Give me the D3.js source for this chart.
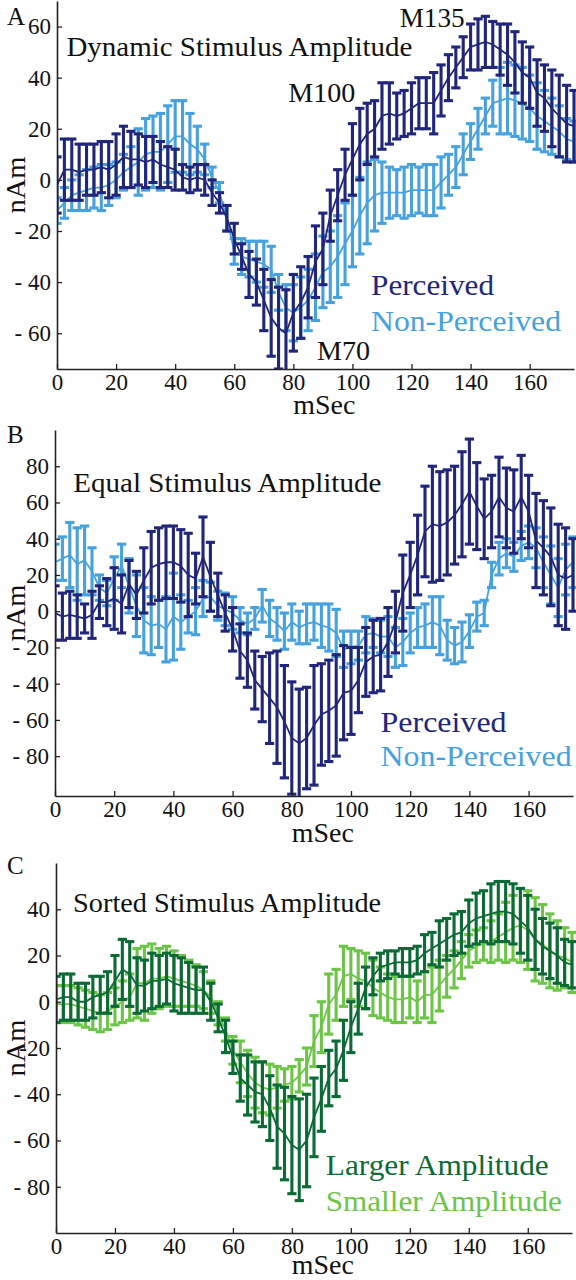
<!DOCTYPE html>
<html><head><meta charset="utf-8">
<script src="https://cdn.jsdelivr.net/npm/d3@7"></script>
<style>body{margin:0;background:#fff}svg{display:block}svg text{font-family:"Liberation Serif","Tinos","Times New Roman","DejaVu Serif","Noto Serif",serif}</style>
</head><body><svg id="c" width="576" height="1280"></svg>
<script>
// time axis (ms), 2.5 ms steps
const times = d3.range(0, 175.01, 2.5);
const xTicks = [0,20,40,60,80,100,120,140,160];

// Panel A: Dynamic Stimulus Amplitude
const aPercMean = [-2,4,4,3,4,4,5,4,6,9,8,8,7,8,6,5,4,1,0,1,0,-5,-9,-15,-23,-30,-37,-40,-47,-54,-58,-60,-52,-48,-42,-32,-27,-14,-6,2,8,14,18,20,25,26,25,26,28,30,30,30,35,40,44,48,52,53,54,53,51,49,46,42,40,34,32,28,25,22,21];
const aPercErr  = [11,12,12,11,10,10,10,11,12,12,11,10,10,9,9,8,8,5,5,5,6,5,4,5,6,5,9,9,12,15,16,17,15,14,12,14,14,10,10,10,14,14,12,11,13,12,9,9,10,10,10,12,10,9,8,8,9,10,10,9,10,12,12,12,12,13,13,15,16,15,14];
const aNonMean  = [-12,-9,-6,-5,-4,-3,-3,-2,0,3,5,7,10,11,11,14,17,17,14,12,8,1,-5,-15,-28,-30,-31,-32,-33,-35,-44,-50,-52,-50,-47,-42,-36,-34,-30,-25,-20,-14,-9,-6,-5,-5,-5,-5,-4,-4,-4,-4,-1,2,5,10,15,20,25,30,31,32,31,30,28,25,23,21,19,16,15];
const aNonErr   = [5,6,6,7,8,8,9,8,7,7,8,13,14,14,15,15,14,14,12,9,6,4,4,5,5,7,7,8,9,9,7,9,11,12,12,13,14,14,16,16,14,15,16,14,12,10,9,10,10,9,10,10,10,8,8,8,7,8,7,9,13,14,14,14,13,13,12,11,10,8,8];
const aYTicks = [60,40,20,0,-20,-40,-60];
const aYLabels = ["60","40","20","0","- 20","- 40","- 60"];

// Panel B: Equal Stimulus Amplitude
const bPercMean = [-1,-3,-2,-3,-4,-2,5,5,7,4,15,9,17,24,26,27,27,25,20,18,30,19,9,-1,-10,-22,-27,-38,-43,-48,-53,-61,-70,-73,-70,-63,-57,-55,-52,-45,-44,-38,-28,-25,-24,-17,-6,10,20,31,44,48,47,49,53,59,66,58,51,55,63,57,55,63,55,39,35,30,20,18,20];
const bPercErr  = [15,13,13,12,8,13,9,13,17,16,13,13,18,20,20,20,20,20,23,14,22,19,12,10,12,15,15,16,18,25,31,31,31,30,28,33,28,28,28,26,24,18,19,20,20,19,17,21,18,22,25,32,30,29,27,29,29,24,22,20,22,22,23,23,20,26,26,27,28,28,20];
const bNonMean  = [27,29,31,26,28,22,13,10,18,25,14,3,-5,-8,-7,-10,-3,-6,-3,0,7,8,3,1,-1,-5,-7,-4,3,-4,-7,-11,-6,-9,-7,-6,-8,-9,-12,-21,-20,-19,-13,-12,-14,-14,-20,-17,-12,-9,-8,-6,-8,-16,-19,-17,-11,-3,-1,20,29,32,30,36,38,35,27,20,13,23,27];
const bNonErr   = [10,12,18,20,19,13,7,7,12,12,15,17,18,16,13,18,24,15,9,13,10,8,8,9,9,7,6,6,9,10,9,10,10,9,11,10,12,13,13,10,9,8,10,8,9,11,11,13,11,11,12,14,16,11,10,11,9,8,7,7,9,8,8,8,9,11,14,16,16,14,14];
const bYTicks = [80,60,40,20,0,-20,-40,-60,-80];
const bYLabels = ["80","60","40","20","0","- 20","- 40","- 60","- 80"];

// Panel C: Sorted Stimulus Amplitude
const cLargeMean = [1,2,2,0,0,2,3,4,9,14,12,7,7,9,9,10,8,7,6,5,5,0,-7,-15,-24,-33,-36,-39,-40,-46,-54,-57,-62,-64,-60,-50,-42,-33,-29,-21,-11,-3,6,11,15,16,17,17,17,18,21,23,25,27,29,30,34,36,37,38,39,39,38,35,32,27,24,22,20,17,16];
const cLargeErr  = [10,10,10,8,8,9,8,9,11,13,14,12,11,12,11,11,12,12,11,10,10,8,6,7,7,10,13,13,14,14,18,20,21,22,20,17,14,12,12,13,11,11,9,8,6,6,5,6,6,6,8,7,10,9,9,9,10,11,11,13,13,13,13,14,14,13,12,12,12,10,10];
const cSmallMean = [-1,-1,-1,-2,-3,-4,-5,-4,-2,0,2,8,8,10,10,11,10,9,8,7,5,2,-5,-12,-21,-26,-31,-35,-37,-38,-37,-36,-35,-32,-28,-17,-11,-1,3,11,12,10,9,6,4,2,1,1,2,0,3,3,7,11,14,18,22,24,25,26,28,30,32,33,31,27,25,22,20,19,17];
const cSmallErr  = [8,8,8,8,8,8,8,8,8,9,10,15,16,15,13,13,12,11,10,9,8,7,5,5,6,9,10,11,11,11,9,7,7,7,8,11,11,13,11,13,11,12,12,12,11,10,10,10,9,9,10,12,11,9,8,8,7,7,7,9,10,13,14,16,17,18,17,16,15,13,13];
const cYTicks = [40,20,0,-20,-40,-60,-80];
const cYLabels = ["40","20","0","-20","- 40","- 60","- 80"];

const seriesNames = [["Perceived","Non-Perceived"],["Perceived","Non-Perceived"],["Larger Amplitude","Smaller Amplitude"]];
const titles = ["Dynamic Stimulus Amplitude","Equal Stimulus Amplitude","Sorted Stimulus Amplitude"];

const NAVY="#22267a", LBLUE="#46a2de", DGREEN="#0b6a35", LGREEN="#6cc546";

const panels = [
  {letter:"A", title:titles[0], x0:57, x1:574, yTop:1, yBot:369, dom:[-74,70],
   dark:{mean:aPercMean,err:aPercErr,color:NAVY,name:seriesNames[0][0]},
   light:{mean:aNonMean,err:aNonErr,color:LBLUE,name:seriesNames[0][1]},
   yt:aYTicks, yl:aYLabels, letterY:25, xlab:45,
   title_:[3.2,48.3,346], leg:[106.3,-45.1,123,-59.2,190],
   notes:[["M135",116,59.9,65],["M100",78.3,30.6,67],["M70",88,-70.3,53]]},
  {letter:"B", title:titles[1], x0:55, x1:573, yTop:430, yBot:796, dom:[-102,100],
   dark:{mean:bPercMean,err:bPercErr,color:NAVY,name:seriesNames[1][0]},
   light:{mean:bNonMean,err:bNonErr,color:LBLUE,name:seriesNames[1][1]},
   yt:bYTicks, yl:bYLabels, letterY:443, xlab:46,
   title_:[6.2,66,308], leg:[110,-66.7,126,-85.7,191], notes:[]},
  {letter:"C", title:titles[2], x0:56, x1:572, yTop:863, yBot:1233, dom:[-100,60],
   dark:{mean:cLargeMean,err:cLargeErr,color:DGREEN,name:seriesNames[2][0]},
   light:{mean:cSmallMean,err:cSmallErr,color:LGREEN,name:seriesNames[2][1]},
   yt:cYTicks, yl:cYLabels, letterY:874, xlab:41,
   title_:[5.8,38.7,308], leg:[91.5,-75,223,-90.5,236], notes:[]}
];

const svg = d3.select("#c");
const AX="#222";
function fit(sel,w){ return sel.attr("textLength",w).attr("lengthAdjust","spacingAndGlyphs"); }

panels.forEach((p,pi)=>{
  const x = d3.scaleLinear().domain([0,175]).range([p.x0,p.x1]);
  const y = d3.scaleLinear().domain(p.dom).range([p.yBot,p.yTop]);
  const g = svg.append("g");
  const cid = "clip"+pi;
  svg.append("clipPath").attr("id",cid).append("rect")
    .attr("x",p.x0).attr("y",p.yTop).attr("width",p.x1-p.x0+6).attr("height",p.yBot-p.yTop);
  const plot = g.append("g").attr("clip-path",`url(#${cid})`);
  const capW = 4.6, sw = 3.1;
  [p.light,p.dark].forEach(s=>{
    const sg = plot.append("g").attr("stroke",s.color).attr("fill","none");
    const pts = times.map((t,i)=>({t,m:s.mean[i],e:s.err[i]}));
    sg.selectAll("line.v").data(pts).join("line").attr("class","v")
      .attr("x1",d=>x(d.t)).attr("x2",d=>x(d.t))
      .attr("y1",d=>y(d.m-d.e)).attr("y2",d=>y(d.m+d.e)).attr("stroke-width",sw);
    sg.selectAll("line.t").data(pts).join("line").attr("class","t")
      .attr("x1",d=>x(d.t)-capW).attr("x2",d=>x(d.t)+capW)
      .attr("y1",d=>y(d.m+d.e)).attr("y2",d=>y(d.m+d.e)).attr("stroke-width",sw);
    sg.selectAll("line.b").data(pts).join("line").attr("class","b")
      .attr("x1",d=>x(d.t)-capW).attr("x2",d=>x(d.t)+capW)
      .attr("y1",d=>y(d.m-d.e)).attr("y2",d=>y(d.m-d.e)).attr("stroke-width",sw);
    sg.append("path").datum(pts).attr("stroke-width",1.8)
      .attr("d",d3.line().x(d=>x(d.t)).y(d=>y(d.m)));
  });
  // axes
  const xa = g.append("g").attr("transform",`translate(0,${p.yBot})`)
    .call(d3.axisBottom(x).tickValues(xTicks).tickSize(-5).tickPadding(7).tickSizeOuter(0));
  xa.attr("font-family",null);
  xa.select(".domain").attr("stroke",AX).attr("stroke-width",1.6);
  xa.selectAll(".tick line").attr("stroke",AX).attr("stroke-width",1.3);
  xa.selectAll(".tick text").attr("font-size",23).attr("fill","#111").attr("dy","0.62em");
  const ya = g.append("g").attr("transform",`translate(${p.x0},0)`)
    .call(d3.axisLeft(y).tickValues(p.yt).tickFormat((d,i)=>p.yl[i]).tickSize(-5).tickPadding(6).tickSizeOuter(0));
  ya.attr("font-family",null);
  ya.select(".domain").attr("stroke",AX).attr("stroke-width",1.6);
  ya.selectAll(".tick line").attr("stroke",AX).attr("stroke-width",1.3);
  ya.selectAll(".tick text").attr("font-size",23).attr("fill","#111");
  // labels
  g.append("text").attr("x",7).attr("y",p.letterY).attr("font-size",25).attr("fill","#111").text(p.letter);
  fit(g.append("text").attr("x",x(p.title_[0])).attr("y",y(p.title_[1])).attr("font-size",28).attr("fill","#111").text(p.title), p.title_[2]);
  fit(g.append("text").attr("x",x(p.leg[0])).attr("y",y(p.leg[1])).attr("font-size",29).attr("fill",p.dark.color).text(p.dark.name), p.leg[2]);
  fit(g.append("text").attr("x",x(p.leg[0])).attr("y",y(p.leg[3])).attr("font-size",29).attr("fill",p.light.color).text(p.light.name), p.leg[4]);
  p.notes.forEach(n=>fit(g.append("text").attr("x",x(n[1])).attr("y",y(n[2])).attr("font-size",28).attr("fill","#111").text(n[0]), n[3]));
  fit(g.append("text").attr("transform",`translate(25,${(p.yTop+p.yBot)/2})rotate(-90)`).attr("text-anchor","middle")
    .attr("font-size",28).attr("fill","#111").text("nAm"), 57);
  fit(g.append("text").attr("x",x(90.5)).attr("y",p.yBot+p.xlab).attr("text-anchor","middle")
    .attr("font-size",27).attr("fill","#111").text("mSec"), 62);
});
</script></body></html>
